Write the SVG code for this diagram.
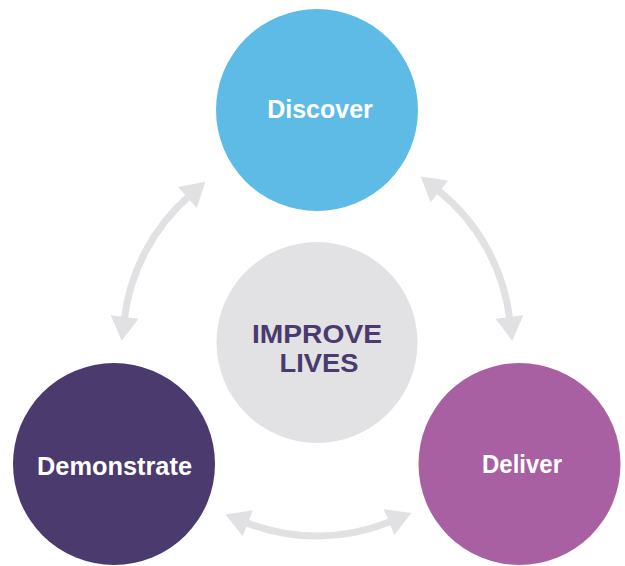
<svg xmlns="http://www.w3.org/2000/svg" width="625" height="566" viewBox="0 0 625 566">
<style>
.lbl{font-family:"Liberation Sans",Arial,sans-serif;font-weight:bold;font-size:25px;fill:#ffffff;text-anchor:middle}
.core{font-family:"Liberation Sans",Arial,sans-serif;font-weight:bold;font-size:26px;fill:#4b3a6e;text-anchor:middle}
.conn{fill:none;stroke:#e1e1e4;stroke-width:7}
</style>
<defs>
<marker id="ah" markerUnits="userSpaceOnUse" markerWidth="30" markerHeight="30" refX="1" refY="15" orient="auto-start-reverse" overflow="visible">
<path d="M0,1 L24,15 L0,29 z" fill="#e1e1e4"/>
</marker>
</defs>
<rect width="625" height="566" fill="#ffffff"/>
<g id="connectors">
<path class="conn" d="M124.49,318.02 A194,194 0 0 1 188.20,196.93" marker-start="url(#ah)" marker-end="url(#ah)"/>
<path class="conn" d="M438.56,190.81 A194,194 0 0 1 509.51,318.02" marker-start="url(#ah)" marker-end="url(#ah)"/>
<path class="conn" d="M389.99,521.75 A194,194 0 0 1 246.85,522.87" marker-start="url(#ah)" marker-end="url(#ah)"/>
</g>
<g id="improve-lives">
<circle cx="317" cy="342.5" r="100.5" fill="#e2e2e5"/>
<text class="core" x="317" y="343" textLength="130" lengthAdjust="spacingAndGlyphs">IMPROVE</text>
<text class="core" x="319" y="372" textLength="79" lengthAdjust="spacingAndGlyphs">LIVES</text>
</g>
<g id="discover">
<circle cx="317" cy="110" r="101" fill="#5ebbe6"/>
<text class="lbl" x="320" y="118">Discover</text>
</g>
<g id="demonstrate">
<circle cx="114" cy="464" r="101" fill="#4b3a6d"/>
<text class="lbl" x="114.5" y="475" textLength="155" lengthAdjust="spacingAndGlyphs">Demonstrate</text>
</g>
<g id="deliver">
<circle cx="519.5" cy="464" r="101" fill="#a960a2"/>
<text class="lbl" x="522" y="473" textLength="80" lengthAdjust="spacingAndGlyphs">Deliver</text>
</g>
</svg>
